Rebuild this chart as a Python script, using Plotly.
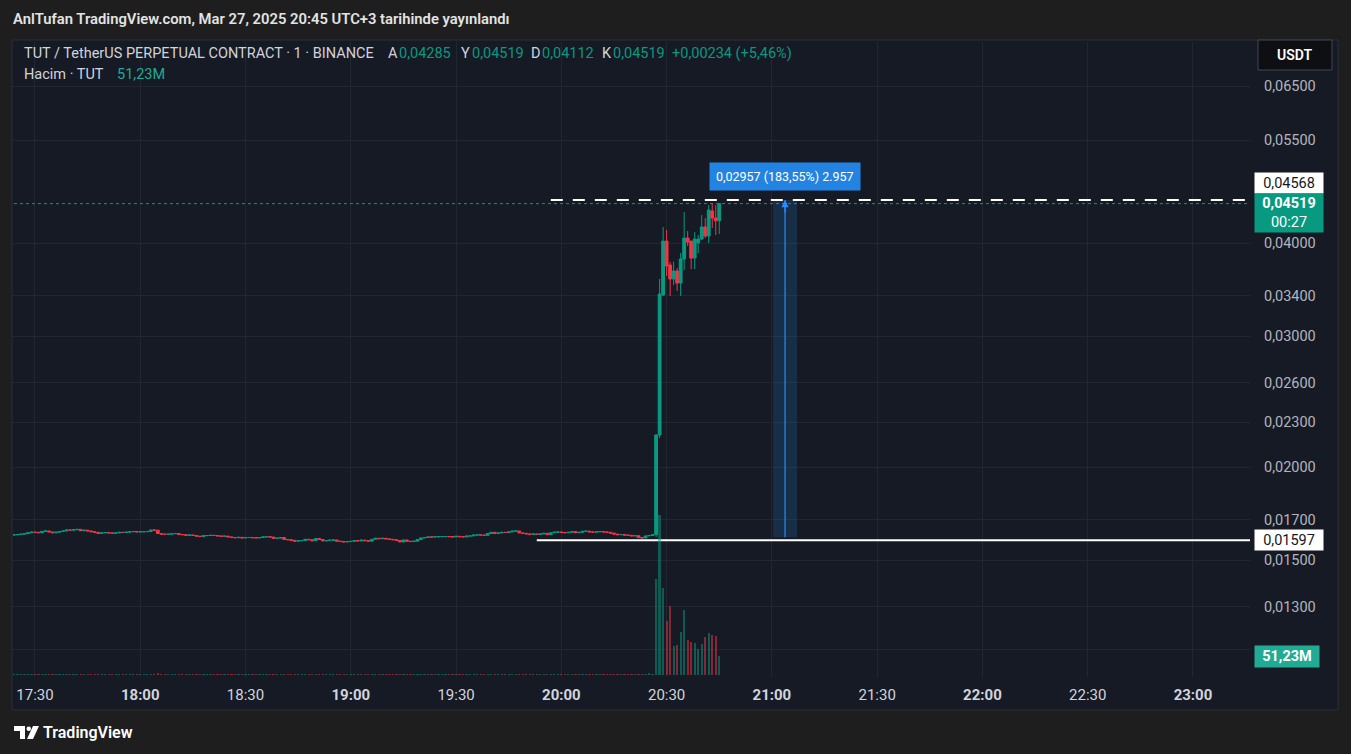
import math
import pandas as pd
import plotly.graph_objects as go

# ---------------- data ----------------
start_time = "2025-03-27 17:24"
flat_first_open_e5 = 1622
# closes (x 1e-5 USDT), one per minute 17:24 .. 20:26
flat_close_e5 = [
    1624, 1625, 1627, 1629, 1634, 1637, 1636, 1634, 1641, 1643,
    1638, 1634, 1637, 1640, 1643, 1648, 1647, 1649, 1651, 1644,
    1647, 1643, 1639, 1636, 1631, 1633, 1635, 1633, 1631, 1633,
    1636, 1635, 1637, 1639, 1640, 1638, 1639, 1639, 1640, 1648,
    1647, 1630, 1627, 1626, 1627, 1629, 1630, 1625, 1624, 1621,
    1623, 1620, 1617, 1615, 1619, 1620, 1621, 1620, 1618, 1616,
    1617, 1613, 1610, 1609, 1611, 1608, 1610, 1610, 1609, 1608,
    1610, 1613, 1614, 1612, 1606, 1607, 1610, 1600, 1599, 1596,
    1592, 1594, 1595, 1601, 1599, 1594, 1605, 1600, 1593, 1595,
    1597, 1598, 1592, 1590, 1588, 1590, 1591, 1595, 1593, 1597,
    1594, 1592, 1601, 1606, 1604, 1606, 1603, 1601, 1599, 1595,
    1588, 1598, 1591, 1590, 1592, 1600, 1608, 1610, 1613, 1612,
    1614, 1614, 1615, 1615, 1614, 1613, 1616, 1614, 1613, 1617,
    1618, 1622, 1623, 1622, 1621, 1630, 1636, 1630, 1633, 1636,
    1635, 1638, 1642, 1643, 1633, 1631, 1628, 1626, 1628, 1625,
    1628, 1631, 1624, 1634, 1637, 1638, 1635, 1634, 1636, 1640,
    1634, 1636, 1641, 1642, 1638, 1637, 1638, 1640, 1638, 1636,
    1632, 1627, 1624, 1625, 1622, 1621, 1618, 1619, 1610, 1608,
    1618, 1620, 1624,
]
# 20:27 .. 20:45
pump_open = [0.01624, 0.02210, 0.03407, 0.04025, 0.03738, 0.03580, 0.03669, 0.03535, 0.03808, 0.04063,
             0.04025, 0.03819, 0.04001, 0.04050, 0.04204, 0.04088, 0.04417, 0.04322, 0.04285]
pump_high = [0.02215, 0.03580, 0.04204, 0.04165, 0.03773, 0.03776, 0.03703, 0.03879, 0.04403, 0.04152,
             0.04025, 0.04139, 0.04101, 0.04362, 0.04322, 0.04499, 0.04527, 0.04499, 0.04519]
pump_low = [0.01612, 0.02190, 0.03396, 0.03613, 0.03396, 0.03514, 0.03449, 0.03396, 0.03681, 0.03964,
            0.03692, 0.03692, 0.03879, 0.04038, 0.04063, 0.04001, 0.04191, 0.04101, 0.04112]
pump_close = [0.02210, 0.03417, 0.04025, 0.03727, 0.03580, 0.03669, 0.03535, 0.03808, 0.04063, 0.04013,
              0.03819, 0.04050, 0.04050, 0.04204, 0.04088, 0.04430, 0.04322, 0.04285, 0.04519]

# volume in millions
flat_volume_m = [
    3.1, 2.4, 2.8, 1.9, 3.6, 2.2, 1.7, 2.5, 3.0, 2.1, 2.9, 1.6, 2.3, 2.7, 1.8, 3.3, 2.0, 2.6, 3.4, 2.2,
    1.9, 2.8, 2.4, 3.1, 2.6, 1.7, 2.2, 2.0, 1.5, 2.3, 2.9, 1.8, 1.6, 2.1, 2.5, 1.9, 1.4, 2.0, 1.7, 3.8,
    2.4, 4.2, 2.6, 1.8, 2.0, 2.3, 1.7, 2.8, 2.1, 2.5, 1.9, 2.2, 2.6, 2.0, 2.4, 1.6, 1.8, 2.2, 1.9, 2.3,
    2.7, 2.1, 2.4, 1.8, 2.0, 2.2, 1.6, 1.9, 2.3, 1.7, 2.0, 2.5, 1.8, 2.1, 2.9, 1.7, 2.4, 3.5, 2.2, 2.6,
    3.0, 2.1, 1.9, 2.7, 2.3, 2.5, 3.2, 2.4, 2.8, 2.0, 1.8, 2.2, 2.6, 2.3, 2.9, 2.1, 1.8, 2.4, 2.0, 2.2,
    1.9, 2.3, 3.1, 2.7, 2.0, 2.2, 2.4, 1.8, 2.1, 2.6, 3.4, 2.8, 2.5, 2.0, 1.9, 2.7, 3.0, 2.3, 2.1, 1.8,
    2.0, 1.7, 1.9, 1.6, 2.1, 1.8, 2.2, 1.9, 1.7, 2.3, 2.0, 2.6, 1.9, 2.2, 1.8, 3.1, 2.7, 2.4, 2.0, 2.3,
    1.9, 2.5, 2.8, 2.1, 3.0, 2.4, 2.2, 2.0, 1.8, 2.3, 2.1, 2.4, 2.9, 3.2, 2.6, 2.0, 2.2, 1.9, 2.1, 2.5,
    2.7, 2.0, 2.6, 2.2, 2.3, 1.9, 1.8, 2.1, 2.0, 2.2, 2.6, 2.9, 2.4, 2.0, 2.3, 2.1, 2.5, 2.2, 3.3, 2.8,
    3.6, 5.2, 3.1,
]
pump_volume_m = [259, 431, 235, 146, 186, 78, 81, 116, 175, 94,
                 89, 86, 70, 84, 102, 113, 108, 105, 51.23]

price_ticks = [0.065, 0.055, 0.04, 0.034, 0.03, 0.026, 0.023, 0.02, 0.017, 0.015, 0.013, 0.0114]
price_tick_labels = ["0,06500", "0,05500", "0,04000", "0,03400", "0,03000", "0,02600",
                     "0,02300", "0,02000", "0,01700", "0,01500", "0,01300", ""]
time_ticks = ["17:30", "18:00", "18:30", "19:00", "19:30", "20:00", "20:30",
              "21:00", "21:30", "22:00", "22:30", "23:00"]
day = "2025-03-27"

current_price = 0.04519
target_price = 0.04568
base_price = 0.01597
measure_low = 0.01611
measure_high = 0.04568
measure_start = "2025-03-27 21:00:20"
measure_end = "2025-03-27 21:07:10"
measure_mid = "2025-03-27 21:03:45"
target_line_start = "2025-03-27 19:57"
base_line_start = "2025-03-27 19:53"
x_range = ["2025-03-27 17:23:44", "2025-03-27 23:16:15"]
y_range_price = [0.010461, 0.07447]
vol_range = [-5.4e6, 1706.6e6]

# ---------------- build ----------------
assert len(flat_close_e5) == 183
flat_close = [v / 1e5 for v in flat_close_e5]
flat_open = [flat_first_open_e5 / 1e5] + flat_close[:-1]
flat_high = [max(o, c) for o, c in zip(flat_open, flat_close)]
flat_low = [min(o, c) for o, c in zip(flat_open, flat_close)]

opens = flat_open + pump_open
highs = flat_high + pump_high
lows = flat_low + pump_low
closes = flat_close + pump_close
times = pd.date_range(start_time, periods=len(opens), freq="min")
volumes = [v * 1e6 for v in flat_volume_m + pump_volume_m]

UP = "#089981"
DOWN = "#f23645"
vol_colors = ["rgba(8,153,129,0.5)" if c >= o else "rgba(242,54,69,0.5)" for o, c in zip(opens, closes)]

FONT = "Roboto, 'Open Sans', sans-serif"
BG_OUT = "#1e1e1e"
PANEL = "#161a25"
GRID = "#222631"

L, R, T, B = 13, 1250, 42, 677


def px(x):
    return (x - L) / (R - L)


def py(y):
    return (B - y) / (B - T)


fig = go.Figure()

fig.add_trace(go.Bar(x=times, y=volumes, yaxis="y2", marker=dict(color=vol_colors, line=dict(width=0)),
                     width=38000, hoverinfo="skip", showlegend=False))

x_end = x_range[1]
fig.add_trace(go.Scatter(x=[times[0], x_end], y=[current_price, current_price], mode="lines",
                         line=dict(color=UP, width=1, dash="dot"), hoverinfo="skip", showlegend=False))

# measure box
fig.add_trace(go.Scatter(x=[measure_start, measure_end, measure_end, measure_start, measure_start],
                         y=[measure_low, measure_low, measure_high, measure_high, measure_low],
                         mode="lines", fill="toself", fillcolor="rgba(33,150,243,0.17)",
                         line=dict(width=0), hoverinfo="skip", showlegend=False))
fig.add_trace(go.Scatter(x=[measure_mid, measure_mid], y=[measure_low, measure_high], mode="lines",
                         line=dict(color="#2a8cff", width=1.2), hoverinfo="skip", showlegend=False))

fig.add_trace(go.Scatter(x=[target_line_start, x_end], y=[target_price, target_price], mode="lines",
                         line=dict(color="#ffffff", width=2, dash="12px,10px"), hoverinfo="skip",
                         showlegend=False))
fig.add_trace(go.Scatter(x=[base_line_start, x_end], y=[base_price, base_price], mode="lines",
                         line=dict(color="#ffffff", width=2), hoverinfo="skip", showlegend=False))

fig.add_trace(go.Candlestick(
    x=times, open=opens, high=highs, low=lows, close=closes,
    increasing=dict(line=dict(color=UP, width=1), fillcolor=UP),
    decreasing=dict(line=dict(color=DOWN, width=1), fillcolor=DOWN),
    whiskerwidth=0, hoverinfo="skip", showlegend=False))

shapes = [
    dict(type="rect", xref="paper", yref="paper", x0=px(12), x1=px(1338), y0=py(710), y1=py(40),
         fillcolor=PANEL, line=dict(color="#2a2e39", width=1), layer="below"),
    dict(type="rect", xref="paper", yref="paper", x0=px(1258), x1=px(1332), y0=py(70), y1=py(40),
         fillcolor="#0e0f12", line=dict(color="#434651", width=1), layer="above"),
    # TradingView logo pieces
    dict(type="path", xref="paper", yref="paper", layer="above", fillcolor="#ffffff", line=dict(width=0),
         path=f"M {px(14)},{py(726)} L {px(25)},{py(726)} L {px(25)},{py(739)} L {px(20)},{py(739)} "
              f"L {px(20)},{py(731)} L {px(14)},{py(731)} Z"),
    dict(type="circle", xref="paper", yref="paper", layer="above", fillcolor="#ffffff", line=dict(width=0),
         x0=px(26.5), x1=px(31), y0=py(731), y1=py(726.5)),
    dict(type="path", xref="paper", yref="paper", layer="above", fillcolor="#ffffff", line=dict(width=0),
         path=f"M {px(33)},{py(726)} L {px(39)},{py(726)} L {px(33)},{py(739)} L {px(27)},{py(739)} Z"),
]

ann = []


def text_ann(x, y, text, size=14.5, color="#d1d4dc", weight="normal"):
    ann.append(dict(xref="paper", yref="paper", x=px(x), y=py(y), xanchor="left", yanchor="middle",
                    text=text, showarrow=False, font=dict(family=FONT, size=size, color=color, weight=weight)))


text_ann(11, 19, "AnlTufan TradingView.com, Mar 27, 2025 20:45 UTC+3 tarihinde yayınlandı", 14.8, "#e3e3e3", 600)
text_ann(22, 53, "TUT / TetherUS PERPETUAL CONTRACT · 1 · BINANCE", 14.5)
for lab, xl, val, xv in [("A", 386, "0,04285", 397), ("Y", 459, "0,04519", 470),
                         ("D", 529, "0,04112", 540), ("K", 600, "0,04519", 611)]:
    text_ann(xl, 53, lab, 14.5)
    text_ann(xv, 53, val, 14.5, UP)
text_ann(670, 53, "+0,00234 (+5,46%)", 14.5, UP)
text_ann(22, 74, "Hacim · TUT", 14.5)
text_ann(115, 74, "51,23M", 14.5, "#22ab94")
text_ann(41, 732, "TradingView", 16, "#ffffff", 600)

ann.append(dict(xref="paper", yref="paper", x=px(1295), y=py(55), xanchor="center", yanchor="middle",
                text="USDT", showarrow=False,
                font=dict(family=FONT, size=14, color="#ffffff", weight=600)))


# price scale tags
def tag(yref, yval, text, bg, fg, yshift, height, width=64):
    ann.append(dict(xref="paper", yref=yref, x=px(1254), y=yval, xanchor="left", yanchor="middle",
                    text=text, showarrow=False, bgcolor=bg, borderpad=2, width=width, height=height,
                    align="center", yshift=yshift, font=dict(family=FONT, size=14.5, color=fg)))


tag("y", math.log10(target_price), "0,04568", "#ffffff", "#131722", 17, 16)
tag("y", math.log10(current_price), "<b>0,04519</b><br>00:27", UP, "#ffffff", -9, 34)
tag("y", math.log10(base_price), "0,01597", "#ffffff", "#131722", 0, 16)
tag("y2", 51.23e6, "<b>51,23M</b>", "#22ab94", "#ffffff", 0, 17, 60)

# measure label
ann.append(dict(xref="x", yref="y", x=measure_mid, y=math.log10(measure_high), yshift=24,
                text="0,02957 (183,55%) 2.957", showarrow=False, bgcolor="#2383e2", borderpad=6,
                font=dict(family=FONT, size=12.5, color="#ffffff")))
# arrow head
ann.append(dict(xref="x", yref="y", x=measure_mid, y=math.log10(measure_high), ax=0, ay=14,
                showarrow=True, arrowhead=2, arrowsize=1.2, arrowwidth=1.2, arrowcolor="#2a8cff", text=""))

fig.update_layout(
    width=1351, height=754,
    margin=dict(l=L, r=1351 - R, t=T, b=754 - B),
    paper_bgcolor=BG_OUT, plot_bgcolor="rgba(0,0,0,0)",
    showlegend=False, hovermode=False, bargap=0, boxgap=0.2, boxgroupgap=0,
    shapes=shapes, annotations=ann,
    xaxis=dict(type="date", range=x_range, rangeslider=dict(visible=False),
               tickvals=[f"{day} {t}" for t in time_ticks],
               ticktext=[f"<b>{t}</b>" if t.endswith(":00") else t for t in time_ticks],
               tickfont=dict(family=FONT, size=15, color="#d1d4dc"),
               showgrid=True, gridcolor=GRID, gridwidth=1, zeroline=False, showline=False,
               ticks="", ticklabelstandoff=7, fixedrange=True),
    yaxis=dict(type="log", side="right", range=[math.log10(y_range_price[0]), math.log10(y_range_price[1])],
               tickvals=price_ticks, ticktext=price_tick_labels,
               tickfont=dict(family=FONT, size=14.5, color="#b2b5be"),
               showgrid=True, gridcolor=GRID, gridwidth=1, zeroline=False, showline=False,
               ticks="", ticklabelstandoff=13, fixedrange=True),
    yaxis2=dict(overlaying="y", anchor="x", range=vol_range, visible=False, showgrid=False,
                zeroline=False, fixedrange=True),
)

fig.write_html("out.html", config={"displayModeBar": False},
               post_script="document.body.style.margin='0';document.body.style.background='#1e1e1e';")
